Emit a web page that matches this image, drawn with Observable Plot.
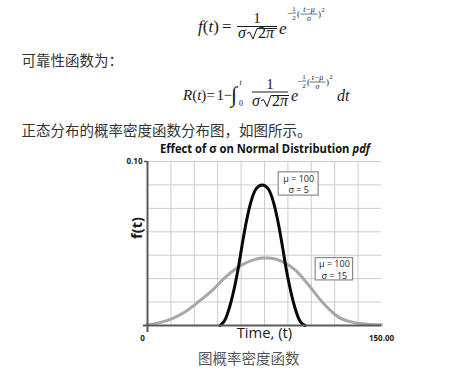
<!DOCTYPE html>
<html><head><meta charset="utf-8">
<script src="https://cdn.jsdelivr.net/npm/d3@7"></script>
<script src="https://cdn.jsdelivr.net/npm/@observablehq/plot@0.6"></script>
<style>
html,body{margin:0;padding:0;background:#fff;overflow:hidden;}
#page{position:relative;width:472px;height:379px;overflow:hidden;background:#fff;}
#chart{position:absolute;left:0;top:140px;}
#overlay{position:absolute;left:0;top:0;}
.f{font-family:'Liberation Serif','Times New Roman',serif;fill:#1a1a1a;}
.i{font-style:italic;}
.cjk{font-family:'Noto Sans CJK SC',sans-serif;fill:#333;font-size:14.5px;}
.sans{font-family:'Open Sans',sans-serif;fill:#111;}
</style></head><body>
<div id="page">
<div id="chart"></div>
<svg id="overlay" width="472" height="379">
  <g class="f">
    <!-- f(t) formula -->
    <text x="198" y="32" font-size="17"><tspan class="i">f</tspan>(<tspan class="i">t</tspan>)</text>
    <text x="222" y="32" font-size="17">=</text>
    <text x="257" y="23" font-size="15" text-anchor="middle">1</text>
    <line x1="237" y1="26.5" x2="277" y2="26.5" stroke="#1a1a1a" stroke-width="1"/>
    <text x="238" y="38" font-size="16" class="i">σ</text>
    <path d="M247 33.5 L249.5 32 L253 39 L257 28.5 L277 28.5" fill="none" stroke="#1a1a1a" stroke-width="1"/>
    <text x="258" y="38" font-size="16">2<tspan class="i">π</tspan></text>
    <text x="279" y="34" font-size="17" class="i">e</text>
    <text x="287" y="16" font-size="9">−</text>
    <text x="294" y="11" font-size="7" text-anchor="middle">1</text>
    <line x1="292" y1="13" x2="296" y2="13" stroke="#1a1a1a" stroke-width="0.6"/>
    <text x="294" y="19.5" font-size="7" text-anchor="middle">2</text>
    <text x="297" y="17" font-size="9">(</text>
    <text x="309" y="11.5" font-size="8" text-anchor="middle" class="i">t−μ</text>
    <line x1="300.5" y1="14" x2="317.5" y2="14" stroke="#1a1a1a" stroke-width="0.6"/>
    <text x="309" y="21" font-size="8" text-anchor="middle" class="i">σ</text>
    <text x="318" y="17" font-size="9">)</text>
    <text x="321.5" y="12" font-size="6.5">2</text>

    <!-- R(t) formula -->
    <text x="183" y="100" font-size="15"><tspan class="i">R</tspan>(<tspan class="i">t</tspan>)</text>
    <text x="206.5" y="100" font-size="15">=</text>
    <text x="216.5" y="100" font-size="15">1</text>
    <text x="223.5" y="100" font-size="15">−</text>
    <text x="231" y="102" font-size="22" class="i">∫</text>
    <text x="239.5" y="85" font-size="8" class="i">t</text>
    <text x="239" y="106" font-size="8">0</text>
    <text x="270" y="89" font-size="15" text-anchor="middle">1</text>
    <line x1="252" y1="92" x2="288" y2="92" stroke="#1a1a1a" stroke-width="1"/>
    <text x="252" y="106" font-size="16" class="i">σ</text>
    <path d="M261 101 L263.5 99.5 L267 106.5 L271 95.5 L289 95.5" fill="none" stroke="#1a1a1a" stroke-width="1"/>
    <text x="272" y="106" font-size="16">2<tspan class="i">π</tspan></text>
    <text x="291" y="101" font-size="16" class="i">e</text>
    <text x="297" y="84" font-size="9">−</text>
    <text x="304" y="79" font-size="7" text-anchor="middle">1</text>
    <line x1="302" y1="81" x2="306" y2="81" stroke="#1a1a1a" stroke-width="0.6"/>
    <text x="304" y="87.5" font-size="7" text-anchor="middle">2</text>
    <text x="307" y="85" font-size="9">(</text>
    <text x="317.5" y="79.5" font-size="8" text-anchor="middle" class="i">t−μ</text>
    <line x1="309.5" y1="82" x2="325.5" y2="82" stroke="#1a1a1a" stroke-width="0.6"/>
    <text x="317.5" y="89" font-size="8" text-anchor="middle" class="i">σ</text>
    <text x="326" y="85" font-size="9">)</text>
    <text x="329.5" y="79" font-size="6.5">2</text>
    <text x="337" y="101" font-size="16" class="i">dt</text>
  </g>
  <text class="cjk" x="21.5" y="66">可靠性函数为：</text>
  <text class="cjk" x="21.5" y="136">正态分布的概率密度函数分布图，如图所示。</text>
  <text class="cjk" x="198" y="364" style="fill:#555">图概率密度函数</text>

  <g id="title" class="sans" font-weight="700" font-size="11.8">
    <text id="t1" x="0" y="0">Effect of σ on Normal Distribution</text>
    <text id="t2" x="0" y="0" font-style="italic">pdf</text>
  </g>
  <text class="sans" x="236.7" y="337.5" font-size="14.5" textLength="55.5" lengthAdjust="spacingAndGlyphs" style="fill:#1a1a1a">Time, (t)</text>
  <text class="sans" transform="translate(142,228) rotate(-90)" text-anchor="middle" font-size="14.5" font-weight="700" style="fill:#1a1a1a">f(t)</text>
</svg>
</div>
<script>
// ---- data ----
// sigma = 5 curve (black)
const blackT = [46.5, 48, 50, 52.9, 56, 58.5, 60.6, 63.5, 65.7, 69, 71.5, 73.5, 75.5, 78, 81.3, 83.5, 86.4, 88.5, 91, 94.1, 97, 99, 101];
const blackV = [0, 0.0012, 0.0041, 0.0122, 0.0244, 0.0366, 0.0488, 0.064, 0.0733, 0.0824, 0.085, 0.0857, 0.085, 0.0824, 0.0733, 0.064, 0.0488, 0.0366, 0.0244, 0.0122, 0.0041, 0.0012, 0];
// sigma = 15 curve (grey)
const greyT = [0, 7, 15.5, 24, 32.5, 41.5, 50, 60.5, 69, 73.5, 78, 86.5, 95, 103.5, 112, 122.5, 133.5, 141, 150];
const greyV = [0.0004, 0.0016, 0.0041, 0.0082, 0.0143, 0.0214, 0.0295, 0.037, 0.0403, 0.0412, 0.0411, 0.039, 0.0336, 0.0244, 0.0143, 0.0051, 0.0016, 0.0008, 0.0004];
// annotation values
const muValues = [100, 100];
const sigmaValues = [5, 15];
// ticks
const xTicks = [0, 150];
const xTickLabels = ["0", "150.00"];
const yTicks = [0.1];
const yTickLabels = ["0.10"];
const xGrid = [15, 30, 45, 60, 75, 90, 105, 120, 135];
const yGridCount = 7;

// ---- layout ----
const boxPlacement = [
  {t1: 84.1, t2: 109.7, v1: 0.0792, v2: 0.0934},
  {t1: 107.8, t2: 131.8, v1: 0.0275, v2: 0.0411}
];
const black = blackT.map((t, i) => ({t, v: blackV[i]}));
const grey = greyT.map((t, i) => ({t, v: greyV[i]}));
const yGrid = d3.range(1, yGridCount + 1).map(i => i * yTicks[0] / yGridCount);
const notes = muValues.map((mu, i) => ({mu, sigma: sigmaValues[i], ...boxPlacement[i]}));

const chart = Plot.plot({
  width: 472, height: 239,
  marginLeft: 147, marginRight: 91, marginTop: 21, marginBottom: 54,
  x: {domain: [0, 150], axis: null},
  y: {domain: [0, 0.1], axis: null},
  style: {background: "transparent", fontFamily: "'Open Sans', sans-serif", overflow: "visible"},
  marks: [
    Plot.ruleX(xGrid, {stroke: "#cdcdcd", strokeWidth: 1}),
    Plot.ruleY(yGrid, {stroke: "#cdcdcd", strokeWidth: 1}),
    Plot.line(grey, {x: "t", y: "v", stroke: "#a8a8a8", strokeWidth: 3, curve: "monotone-x"}),
    Plot.line(black, {x: "t", y: "v", stroke: "#080808", strokeWidth: 3, curve: "monotone-x"}),
    Plot.ruleX([0], {stroke: "#5a5a5a", strokeWidth: 2, insetBottom: -7}),
    Plot.ruleY([0], {stroke: "#5a5a5a", strokeWidth: 2, insetLeft: -4}),
    Plot.ruleY(yTicks, {x1: 0, x2: 0, insetLeft: -3, stroke: "#5a5a5a", strokeWidth: 1.5}),
    Plot.rect(notes, {x1: "t1", x2: "t2", y1: "v1", y2: "v2", fill: "white", stroke: "#8a8a8a", strokeWidth: 1.2}),
    Plot.text(notes, {x: d => (d.t1 + d.t2) / 2, y: d => (d.v1 + d.v2) / 2, text: d => `μ = ${d.mu}\nσ = ${d.sigma}`, fontSize: 9, lineHeight: 1.28, fill: "#222"}),
    Plot.text(yTicks, {x: 0, y: d => d, text: (d, i) => yTickLabels[i], textAnchor: "end", dx: -5, fontSize: 8, fontWeight: "bold", fill: "#222"}),
    Plot.text([xTicks[0]], {x: d => d, y: 0, text: () => xTickLabels[0], dx: -5, dy: 13, fontSize: 8, fontWeight: "bold", fill: "#222"}),
    Plot.text([xTicks[1]], {x: d => d, y: 0, text: () => xTickLabels[1], dy: 13, fontSize: 8, fontWeight: "bold", fill: "#222"})
  ]
});
document.getElementById("chart").appendChild(chart);

// fit the title (two runs: upright + italic "pdf") into the reference width
(function () {
  const t1 = document.getElementById("t1"), t2 = document.getElementById("t2");
  const w1 = t1.getComputedTextLength();
  const gap = 3.2;
  t2.setAttribute("x", w1 + gap);
  const total = w1 + gap + t2.getComputedTextLength();
  const s = 210 / total;
  document.getElementById("title").setAttribute("transform", `translate(160,152.5) scale(${s},1)`);
})();
</script>
</body></html>
